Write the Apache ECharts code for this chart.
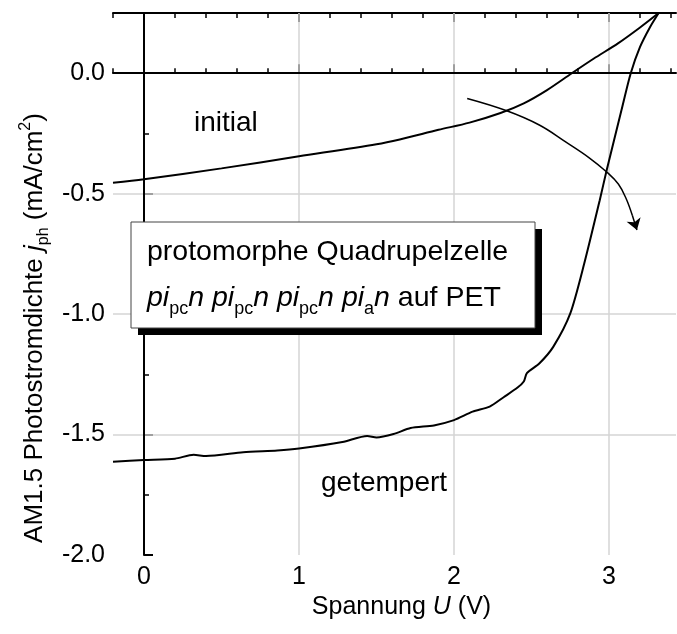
<!DOCTYPE html>
<html lang="de">
<head>
<meta charset="UTF-8" />
<title>Quadrupelzelle j-U Kennlinie</title>
<style>
  html, body { margin: 0; padding: 0; background: #fff; }
  #main { width: 677px; height: 634px; }
</style>
</head>
<body>
<div id="main"></div>
<script src="https://cdn.jsdelivr.net/npm/echarts@6/dist/echarts.min.js"></script>
<script>
// Kennlinie "initial" (U in V, j in mA/cm2)
const initialU = [-0.2, 0, 0.5, 1.0, 1.5, 1.65, 1.9, 2.1, 2.3, 2.45, 2.6, 2.76, 2.9, 3.06, 3.2, 3.32];
const initialJ = [-0.455, -0.44, -0.395, -0.345, -0.295, -0.275, -0.235, -0.205, -0.165, -0.125, -0.07, 0.0, 0.06, 0.125, 0.19, 0.25];

// Kennlinie "getempert"
const temperU = [-0.2, 0, 0.2, 0.32, 0.4, 0.64, 0.86, 1.0, 1.28, 1.44, 1.5, 1.61, 1.72, 1.87, 2.0, 2.12, 2.23, 2.32, 2.41, 2.45, 2.47, 2.55, 2.64, 2.75, 2.84, 2.94, 2.985, 3.08, 3.14, 3.2, 3.265, 3.32];
const temperJ = [-1.613, -1.606, -1.6, -1.584, -1.589, -1.573, -1.566, -1.558, -1.531, -1.506, -1.512, -1.498, -1.473, -1.462, -1.44, -1.405, -1.384, -1.345, -1.305, -1.28, -1.245, -1.205, -1.136, -0.997, -0.79, -0.527, -0.402, -0.154, 0.0, 0.109, 0.192, 0.25];

// Pfeil initial -> getempert
const arrowU = [2.085, 2.34, 2.55, 2.72, 2.87, 2.985, 3.06, 3.11, 3.15];
const arrowJ = [-0.105, -0.156, -0.215, -0.285, -0.35, -0.41, -0.46, -0.52, -0.59];
const arrowTip = [3.18, -0.651];

// Achsen
const xTicks = [0, 1, 2, 3];
const xMinorTicks = [-0.2, 0.2, 0.4, 0.6, 0.8, 1.2, 1.4, 1.6, 1.8, 2.2, 2.4, 2.6, 2.8, 3.2, 3.4];
const yTicks = [0, -0.5, -1.0, -1.5, -2.0];
const yMinorTicks = [-0.25, -0.75, -1.25, -1.75];
const xGrid = [1, 2, 3];
const yGrid = [-0.5, -1.0, -1.5];

const FONT = 'Liberation Sans, Arial, Helvetica, sans-serif';
const zip = (a, b) => a.map((v, i) => [v, b[i]]);

const chart = echarts.init(document.getElementById('main'));

const baseX = { type: 'value', min: -0.2, max: 3.432, gridIndex: 0 };
const baseY = { type: 'value', min: -2.0, max: 0.25, gridIndex: 0 };
const noLabel = { show: false };

const option = {
  animation: false,
  backgroundColor: '#fff',
  grid: { left: 113, top: 13, width: 563, height: 542 },
  xAxis: [
    Object.assign({}, baseX, {
      position: 'bottom',
      axisLine: { lineStyle: { color: '#000', width: 2 } },
      axisTick: { inside: true, length: 9, customValues: xTicks, lineStyle: { color: '#000', width: 2 } },
      axisLabel: { customValues: xTicks, color: '#000', fontSize: 25, fontFamily: FONT, margin: 10 },
      splitLine: { show: false },
      name: 'Spannung {it|U} (V)',
      nameLocation: 'middle',
      nameGap: 36,
      nameTextStyle: {
        color: '#000', fontSize: 25, fontFamily: FONT, padding: [0, 0, 0, 14],
        rich: { it: { fontStyle: 'italic', fontSize: 25, fontFamily: FONT, color: '#000' } }
      }
    }),
    Object.assign({}, baseX, {
      position: 'bottom',
      axisLine: { show: false },
      axisTick: { inside: true, length: 5, customValues: xMinorTicks, lineStyle: { color: '#000', width: 1.5 } },
      axisLabel: noLabel, splitLine: { show: false }
    }),
    Object.assign({}, baseX, {
      position: 'top',
      axisLine: { lineStyle: { color: '#000', width: 2 } },
      axisTick: { inside: true, length: 9, customValues: xTicks, lineStyle: { color: '#000', width: 2 } },
      axisLabel: noLabel, splitLine: { show: false }
    }),
    Object.assign({}, baseX, {
      position: 'top',
      axisLine: { show: false },
      axisTick: { inside: true, length: 5, customValues: xMinorTicks, lineStyle: { color: '#000', width: 1.5 } },
      axisLabel: noLabel, splitLine: { show: false }
    })
  ],
  yAxis: [
    Object.assign({}, baseY, {
      position: 'left',
      axisLine: { lineStyle: { color: '#000', width: 2 } },
      axisTick: { inside: true, length: 9, customValues: yTicks, lineStyle: { color: '#000', width: 2 } },
      axisLabel: {
        customValues: yTicks, color: '#000', fontSize: 25, fontFamily: FONT, margin: 8,
        formatter: v => v.toFixed(1)
      },
      splitLine: { show: false }
    }),
    Object.assign({}, baseY, {
      position: 'left',
      axisLine: { show: false },
      axisTick: { inside: true, length: 5, customValues: yMinorTicks, lineStyle: { color: '#000', width: 1.5 } },
      axisLabel: noLabel, splitLine: { show: false }
    })
  ],
  series: [
    {
      name: 'Gitter',
      type: 'line',
      data: [],
      markLine: {
        silent: true, symbol: 'none', z: 1,
        label: { show: false },
        lineStyle: { color: '#d4d4d4', width: 1.5, type: 'solid' },
        data: xGrid.map(v => ({ xAxis: v })).concat(yGrid.map(v => ({ yAxis: v })))
      }
    },
    {
      name: 'Null',
      type: 'line',
      data: [],
      markLine: {
        silent: true, symbol: 'none', z: 2,
        label: { show: false },
        lineStyle: { color: '#000', width: 2, type: 'solid' },
        data: [{ xAxis: 0 }, { yAxis: 0 }]
      }
    },
    {
      name: 'initial',
      type: 'line',
      data: zip(initialU, initialJ),
      showSymbol: false, smooth: 0.3, z: 3,
      lineStyle: { color: '#000', width: 2 }
    },
    {
      name: 'getempert',
      type: 'line',
      data: zip(temperU, temperJ),
      showSymbol: false, smooth: 0.25, z: 3,
      lineStyle: { color: '#000', width: 2 }
    },
    {
      name: 'Pfeil',
      type: 'line',
      data: zip(arrowU, arrowJ),
      showSymbol: false, smooth: 0.4, z: 3,
      lineStyle: { color: '#000', width: 1.5 }
    },
    {
      name: 'Pfeilspitze',
      type: 'lines',
      coordinateSystem: 'cartesian2d',
      z: 3,
      symbol: ['none', 'arrow'],
      symbolSize: 11,
      lineStyle: { color: '#000', width: 1.5, opacity: 1 },
      data: [{ coords: [[arrowU[arrowU.length - 1], arrowJ[arrowJ.length - 1]], arrowTip] }]
    }
  ],
  graphic: [
    { type: 'text', x: 35, y: 328, rotation: Math.PI / 2, z: 10,
      style: {
        text: 'AM1.5 Photostromdichte {it|j}{sub|ph} (mA/cm{sup|2})',
        align: 'center', verticalAlign: 'middle',
        font: '26px ' + FONT, fill: '#000',
        rich: {
          t: { fontSize: 26, fontFamily: FONT, lineHeight: 32 },
          it: { fontStyle: 'italic', fontSize: 26, fontFamily: FONT, lineHeight: 32, fill: '#000' },
          sub: { fontSize: 16, fontFamily: FONT, lineHeight: 16, padding: [18, 0, 0, 0], fill: '#000' },
          sup: { fontSize: 16, fontFamily: FONT, lineHeight: 16, padding: [0, 0, 18, 0], fill: '#000' }
        }
      } },
    { type: 'text', left: 194, top: 109, z: 10,
      style: { text: 'initial', font: '28px ' + FONT, fill: '#000' } },
    { type: 'text', left: 321, top: 469, z: 10,
      style: { text: 'getempert', font: '28px ' + FONT, fill: '#000' } },
    { type: 'rect', shape: { x: 138, y: 229, width: 404, height: 106 }, z: 10,
      style: { fill: '#000' } },
    { type: 'rect', shape: { x: 131, y: 222, width: 404, height: 106 }, z: 11,
      style: { fill: '#fff', stroke: '#444', lineWidth: 1 } },
    { type: 'text', left: 147, top: 238, z: 12,
      style: { text: 'protomorphe Quadrupelzelle', font: '28.5px ' + FONT, fill: '#000' } },
    { type: 'text', left: 147, top: 278, z: 12,
      style: {
        text: '{it|pi}{sub|pc}{it|n pi}{sub|pc}{it|n pi}{sub|pc}{it|n pi}{sub|a}{it|n}{n| auf PET}',
        fill: '#000',
        rich: {
          it: { fontStyle: 'italic', fontSize: 28.5, fontFamily: FONT, lineHeight: 36, fill: '#000' },
          n: { fontSize: 28.5, fontFamily: FONT, lineHeight: 36, fill: '#000' },
          sub: { fontSize: 18, fontFamily: FONT, lineHeight: 16, padding: [22, 0, 0, 0], fill: '#000' }
        }
      } }
  ]
};

chart.setOption(option);
</script>
</body>
</html>
